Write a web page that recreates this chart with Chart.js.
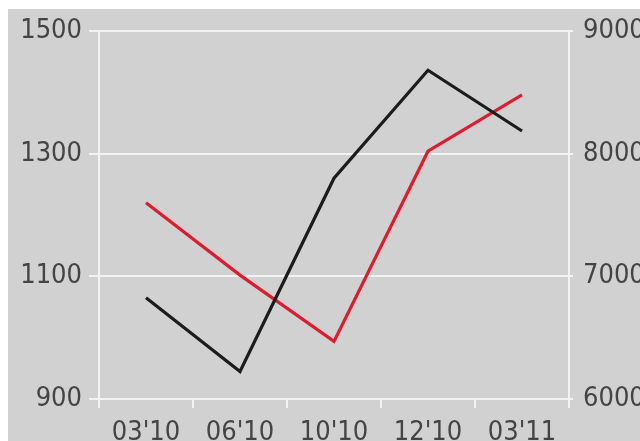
<!DOCTYPE html>
<html>
<head>
<meta charset="utf-8">
<script src="https://cdn.jsdelivr.net/npm/chart.js@4/dist/chart.umd.min.js"></script>
<style>
    html, body { margin: 0; padding: 0; background: #ffffff; }
    #wrap { position: absolute; left: 8px; top: 9px; width: 632px; height: 432px; background: #d1d1d2; }
</style>
</head>
<body>
<div id="wrap"><canvas id="lineChart"></canvas></div>
<script>
// chart values
const categories = ["03'10", "06'10", "10'10", "12'10", "03'11"];
const blackValues = [1065, 945, 1260, 1436, 1337];   // left axis
const redValues = [7600, 7010, 6470, 8020, 8480];     // right axis
const leftTicks = [900, 1100, 1300, 1500];
const rightTicks = [6000, 7000, 8000, 9000];

const labelFont = { family: "'DejaVu Sans Condensed', 'Liberation Sans Narrow', sans-serif", size: 27 };
const labelColor = '#444446';
const gridColor = '#f3f3f3';

function noPad(scale) {
    scale.paddingTop = 0;
    scale.paddingBottom = 0;
}

document.addEventListener('DOMContentLoaded', function() {
    const ctx = document.getElementById('lineChart').getContext('2d');
    new Chart(ctx, {
        type: 'line',
        data: {
            labels: categories,
            datasets: [{
                data: blackValues,
                yAxisID: 'yLeft',
                borderColor: '#1c1c1c',
                borderWidth: 3.2,
                pointRadius: 0,
                tension: 0
            }, {
                data: redValues,
                yAxisID: 'yRight',
                borderColor: '#da1e30',
                borderWidth: 3.2,
                pointRadius: 0,
                tension: 0
            }]
        },
        options: {
            responsive: true,
            maintainAspectRatio: false,
            animation: false,
            layout: { padding: { top: 22, left: 0, right: 0, bottom: 0 } },
            plugins: { legend: { display: false }, tooltip: { enabled: false } },
            scales: {
                x: {
                    offset: true,
                    grid: { display: true, drawOnChartArea: false, color: gridColor, lineWidth: 2, tickLength: 9, offset: true },
                    border: { display: false },
                    ticks: { font: labelFont, color: labelColor, padding: 9, maxRotation: 0 },
                    afterFit: function(scale) { scale.height = 42; scale.paddingLeft = 0; scale.paddingRight = 0; }
                },
                yLeft: {
                    position: 'left',
                    min: 900,
                    max: 1500,
                    afterBuildTicks: function(scale) { scale.ticks = leftTicks.map(v => ({ value: v })); },
                    grid: { color: gridColor, lineWidth: 2, tickLength: 10 },
                    border: { display: true, color: gridColor, width: 2 },
                    ticks: { font: labelFont, color: labelColor, padding: 7, callback: v => String(v) },
                    afterFit: function(scale) { scale.width = 91; noPad(scale); }
                },
                yRight: {
                    position: 'right',
                    min: 6000,
                    max: 9000,
                    afterBuildTicks: function(scale) { scale.ticks = rightTicks.map(v => ({ value: v })); },
                    grid: { drawOnChartArea: false, color: gridColor, lineWidth: 2, tickLength: 4 },
                    border: { display: true, color: gridColor, width: 2 },
                    ticks: { font: labelFont, color: labelColor, padding: 10, callback: v => String(v) },
                    afterFit: function(scale) { scale.width = 71; noPad(scale); }
                }
            }
        }
    });
});
</script>
</body>
</html>
